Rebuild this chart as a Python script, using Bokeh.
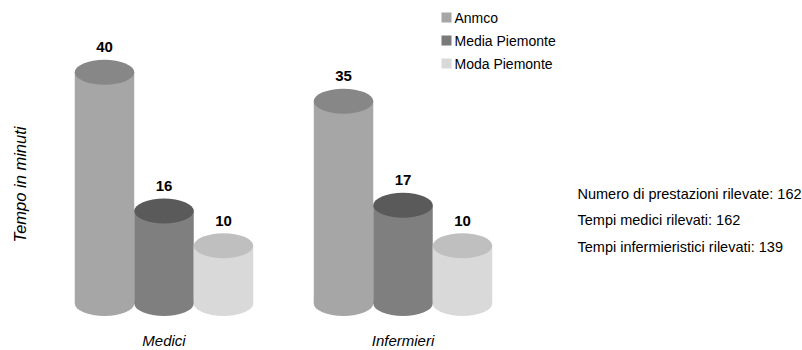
import math
from bokeh.plotting import figure
from bokeh.models import Range1d, Label, ColumnDataSource
from bokeh.core.properties import value
from bokeh.embed import file_html
from bokeh.resources import INLINE

# ---- data ----
groups = ["Medici", "Infermieri"]
series = ["Anmco", "Media Piemonte", "Moda Piemonte"]
anmco = [40, 35]
media_piemonte = [16, 17]
moda_piemonte = [10, 10]
notes = ["Numero di prestazioni rilevate: 162",
         "Tempi medici rilevati: 162",
         "Tempi infermieristici rilevati: 139"]
y_title = "Tempo in minuti"

# ---- styling / layout ----
side_colors = ["#a6a6a6", "#7f7f7f", "#d9d9d9"]
top_colors = ["#878787", "#5a5a5a", "#bfbfbf"]
legend_colors = ["#a6a6a6", "#7a7a7a", "#d9d9d9"]
FONT = "Liberation Sans"
W, H = 802, 350
base_px = 303.0          # pixel row of value 0
k = 5.78                 # pixels per minute
group_centers = [163.5, 402.5]
bar_w = 59.5
offsets = [-bar_w, 0.0, bar_w]
ell_h_px = 25.0

p = figure(width=W, height=H, output_backend="svg", toolbar_location=None,
           x_range=Range1d(0, W), y_range=Range1d(-(H - base_px) / k, base_px / k),
           min_border=0, min_border_left=0, min_border_right=0,
           min_border_top=0, min_border_bottom=0)
p.axis.visible = False
p.grid.visible = False
p.outline_line_color = None
p.background_fill_color = "white"
p.border_fill_color = "white"

all_vals = [anmco, media_piemonte, moda_piemonte]
eh = ell_h_px / k
for si, vals in enumerate(all_vals):
    xs = [gc + offsets[si] for gc in group_centers]
    src = ColumnDataSource(dict(x=xs, v=vals, zero=[0] * len(vals),
                                left=[x - bar_w / 2 for x in xs],
                                right=[x + bar_w / 2 for x in xs],
                                lab=[str(v) for v in vals],
                                ly=[v + 25.0 / k for v in vals]))
    # bottom ellipse
    p.ellipse(x="x", y="zero", width=bar_w, height=eh, source=src,
              fill_color=side_colors[si], line_color=None)
    # side
    p.quad(left="left", right="right", bottom="zero", top="v", source=src,
           fill_color=side_colors[si], line_color=None)
    # top ellipse
    p.ellipse(x="x", y="v", width=bar_w, height=eh, source=src,
              fill_color=top_colors[si], line_color=None)
    # value labels
    p.text(x="x", y="ly", text="lab", source=src, text_align="center",
           text_baseline="middle", text_font=value(FONT), text_font_size="15px",
           text_font_style="bold", text_color="black")

# category labels
for gi, g in enumerate(groups):
    p.add_layout(Label(x=group_centers[gi], y=H - 340, x_units="data", y_units="screen",
                       text=g, text_align="center", text_baseline="middle",
                       text_font=FONT, text_font_size="15px", text_font_style="italic",
                       text_color="black"))

# y title
p.add_layout(Label(x=19, y=H - 184, x_units="screen", y_units="screen",
                   text=y_title, angle=math.pi / 2, text_align="center",
                   text_baseline="middle", text_font=FONT, text_font_size="16.5px",
                   text_font_style="italic", text_color="black"))

# legend
for i, s in enumerate(series):
    cy = 17 + 23 * i
    p.rect(x=[446], y=[(base_px - cy) / k], width=10, height=10 / k,
           fill_color=legend_colors[i], line_color=None)
    p.add_layout(Label(x=454, y=H - cy, x_units="screen", y_units="screen",
                       text=s, text_align="left", text_baseline="middle",
                       text_font=FONT, text_font_size="14px", text_color="black"))

# notes
for i, t in enumerate(notes):
    cy = 193 + 26.5 * i
    p.add_layout(Label(x=577, y=H - cy, x_units="screen", y_units="screen",
                       text=t, text_align="left", text_baseline="middle",
                       text_font=FONT, text_font_size="14.5px", text_color="black"))

open("out.html", "w").write(file_html(p, INLINE))
